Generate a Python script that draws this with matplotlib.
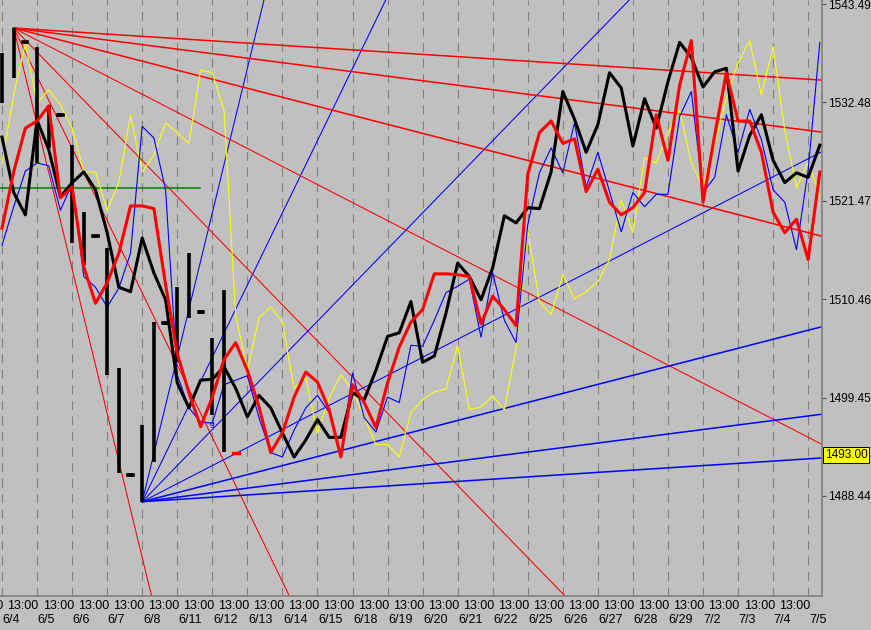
import numpy as np
import matplotlib
matplotlib.use('Agg')
import matplotlib.pyplot as plt
from matplotlib.transforms import blended_transform_factory

# x unit = trading day, 0 = 6/4 13:00, three points per day
dates = ['6/4', '6/5', '6/6', '6/7', '6/8', '6/11', '6/12', '6/13', '6/14', '6/15', '6/18', '6/19',
         '6/20', '6/21', '6/22', '6/25', '6/26', '6/27', '6/28', '6/29', '7/2', '7/3', '7/4', '7/5']

black_line = [1528.6, 1522.4, 1519.9, 1530.5, 1527.2, 1521.9, 1523.5, 1524.7, 1522.7, 1517.9,
              1511.8, 1511.3, 1517.3, 1513.4, 1510.4, 1501.1, 1498.3, 1501.4, 1501.5, 1502.9,
              1500.5, 1497.3, 1499.7, 1498.3, 1495.5, 1492.8, 1494.7, 1497.0, 1495.0, 1495.0,
              1500.0, 1499.2, 1502.5, 1506.3, 1506.7, 1510.2, 1503.4, 1504.1, 1508.9, 1514.5,
              1513.0, 1510.4, 1514.0, 1519.8, 1519.0, 1520.7, 1520.6, 1524.7, 1533.7, 1530.6,
              1526.9, 1530.0, 1535.8, 1534.1, 1527.6, 1532.9, 1529.6, 1534.8, 1539.2, 1537.5,
              1534.2, 1535.9, 1536.3, 1524.8, 1528.8, 1531.1, 1526.0, 1523.5, 1524.6, 1524.1,
              1527.7]

red_line = [1518.4, 1524.7, 1529.6, 1530.4, 1532.1, 1521.8, 1523.0, 1514.1, 1510.0, 1512.3,
            1515.6, 1520.9, 1520.9, 1520.6, 1512.1, 1504.4, 1500.0, 1496.2, 1499.5, 1503.7,
            1505.6, 1502.5, 1498.4, 1493.3, 1495.5, 1499.5, 1502.3, 1501.2, 1498.1, 1492.8,
            1500.9, 1498.9, 1496.1, 1501.1, 1505.1, 1507.9, 1509.3, 1513.3, 1513.3, 1513.2,
            1513.0, 1507.7, 1510.8, 1509.3, 1507.5, 1524.4, 1529.1, 1530.4, 1527.9, 1528.4,
            1522.5, 1525.0, 1521.3, 1519.9, 1520.7, 1522.4, 1531.1, 1526.0, 1534.4, 1539.4,
            1521.3, 1528.8, 1535.8, 1530.4, 1530.4, 1526.9, 1520.2, 1517.9, 1519.4, 1514.9,
            1524.7]

blue_line = [1516.5, 1520.8, 1524.8, 1525.7, 1525.4, 1520.4, 1523.4, 1513.0, 1511.8, 1509.6,
             1511.7, 1515.6, 1529.8, 1528.5, 1522.7, 1502.0, 1498.3, 1496.7, 1496.6, 1500.9,
             1501.4, 1501.9, 1497.2, 1493.3, 1492.8, 1495.8, 1498.3, 1499.7, 1497.8, 1493.0,
             1502.2, 1497.2, 1495.6, 1499.5, 1498.9, 1505.3, 1505.2, 1508.1, 1511.2, 1511.9,
             1512.7, 1506.2, 1513.4, 1508.1, 1505.6, 1518.8, 1524.6, 1527.4, 1524.6, 1530.2,
             1523.0, 1526.9, 1522.5, 1518.0, 1522.4, 1520.8, 1522.2, 1522.2, 1530.9, 1533.7,
             1522.4, 1524.1, 1531.1, 1526.9, 1531.7, 1528.3, 1522.7, 1521.3, 1516.0, 1524.9,
             1539.2]

yellow_line = [1525.7, 1533.3, 1539.1, 1532.4, 1533.9, 1532.2, 1529.6, 1524.7, 1524.7, 1520.4,
               1523.5, 1531.1, 1524.7, 1526.6, 1530.2, 1529.1, 1527.9, 1536.1, 1535.8, 1531.6,
               1508.7, 1502.5, 1508.4, 1509.6, 1507.9, 1500.5, 1501.7, 1495.5, 1499.4, 1502.0,
               1500.3, 1497.3, 1494.2, 1494.2, 1492.8, 1497.8, 1499.2, 1500.1, 1500.4, 1505.3,
               1498.1, 1498.4, 1499.6, 1498.1, 1505.0, 1518.2, 1510.2, 1508.7, 1513.2, 1510.5,
               1511.3, 1512.4, 1514.9, 1521.6, 1517.9, 1526.3, 1525.7, 1529.1, 1531.6, 1525.7,
               1523.0, 1527.9, 1533.0, 1536.9, 1539.4, 1533.3, 1538.7, 1529.4, 1522.9, 1525.8,
               1522.1]

# high / low bars on the left part of the chart
bar_high = [1538.0, 1540.8, 1539.4, 1538.7, 1532.2, 1531.3, 1527.7, 1520.2, 1517.7, 1516.2,
            1502.8, 1491.0, 1496.4, 1507.9, 1508.0, 1511.8, 1515.6, 1509.2, 1506.1, 1511.5]
bar_low = [1532.4, 1535.2, 1539.0, 1525.7, 1527.4, 1530.9, 1516.8, 1514.3, 1517.3, 1502.0,
           1491.0, 1490.6, 1487.8, 1492.3, 1507.6, 1503.4, 1508.4, 1508.8, 1497.5, 1493.4]

y_ticks = [1543.49, 1532.48, 1521.47, 1510.46, 1499.45, 1488.44]
last_price = 1493.00
green_level = 1522.90
green_end = 5.65
gann_unit = 2.02
gann_ratios = [8, 4, 2, 1, 0.5, 0.25, 0.125]

bg = '#c0c0c0'
plt.rcParams['font.family'] = ['Liberation Sans', 'DejaVu Sans']

fig = plt.figure(figsize=(8.71, 6.30), dpi=100, facecolor=bg)
ax = fig.add_axes([0, 34 / 630, 822 / 871, 596 / 630], facecolor=bg)

t = np.arange(len(black_line)) / 3.0
tb = np.arange(len(bar_high)) / 3.0

# gann fans from the top bar high and the bottom bar low
i_top = int(np.argmax(bar_high))
i_bot = int(np.argmin(bar_low))
t_top, p_top = tb[i_top], bar_high[i_top]
t_bot, p_bot = tb[i_bot], bar_low[i_bot]
xs = np.array([0, 30.0])
for r in gann_ratios:
    lw_r = 1.1 if r < 1 else 0.75
    ax.plot(t_top + xs, p_top - r * gann_unit * xs, color='#ff0000', lw=lw_r, zorder=2)
    ax.plot(t_bot + xs, p_bot + r * gann_unit * xs, color='#0000ff', lw=lw_r, zorder=2)

ax.plot([-1, green_end], [green_level, green_level], color='#008000', lw=1.1, zorder=2)

ax.plot(t, yellow_line, color='#ffff00', lw=0.8, zorder=3)
ax.plot(t, blue_line, color='#0000ff', lw=0.8, zorder=3)
ax.plot(t, black_line, color='black', lw=2.2, zorder=4)
ax.plot(t, red_line, color='#ff0000', lw=2.2, zorder=5)

# bars (very small ranges show up as short dashes)
ax.vlines(tb, bar_low, bar_high, color='black', lw=2.6, zorder=4)
for x, hi, lo in zip(tb, bar_high, bar_low):
    if hi - lo < 1:
        ax.plot([x - 0.06, x + 0.06], [(hi + lo) / 2] * 2, color='black', lw=2.6, zorder=4)
ax.plot([20 / 3 - 0.09, 20 / 3 + 0.09], [1493.3, 1493.3], color='#ff0000', lw=2.4, zorder=4)
ax.text(5.99, 1496.4, 'g', color='#0000ff', fontsize=6, ha='center', va='center', zorder=6)

ax.set_xlim(-2 / 35.05, 820 / 35.05)
ax.set_ylim(1477.25, 1543.94)

ax.set_xticks(range(len(dates)))
ax.set_xticklabels([])
ax.tick_params(axis='x', length=0)
ax.grid(axis='x', color='#808080', lw=0.8, linestyle=(0, (8, 6)))
ax.set_axisbelow(True)

ax.yaxis.tick_right()
ax.set_yticks(y_ticks)
ax.set_yticklabels(['%.2f' % v for v in y_ticks])
ax.tick_params(axis='y', length=3, width=0.8, color='#505050', pad=1.5, labelsize=8.5)

for s in ['top', 'left']:
    ax.spines[s].set_visible(False)
for s in ['right', 'bottom']:
    ax.spines[s].set_color('#808080')
    ax.spines[s].set_linewidth(1.2)

# the first "13:00" runs off the left edge, as in the original
trans = blended_transform_factory(ax.transData, fig.transFigure)
for k, d in enumerate(dates):
    ax.text(k + 0.05, 1 - 606 / 630, '13:00', transform=trans, ha='right', va='center', fontsize=9)
    ax.text(k + 0.02, 1 - 620 / 630, d, transform=trans, ha='left', va='center', fontsize=9)

ax.annotate('%.2f' % last_price, xy=(1, last_price), xycoords=('axes fraction', 'data'),
            xytext=(2, 0), textcoords='offset points', ha='left', va='center', fontsize=8.5,
            bbox=dict(boxstyle='square,pad=0.15', fc='#ffff00', ec='black', lw=0.7))

fig.savefig('out.png', dpi=100, facecolor=bg)
